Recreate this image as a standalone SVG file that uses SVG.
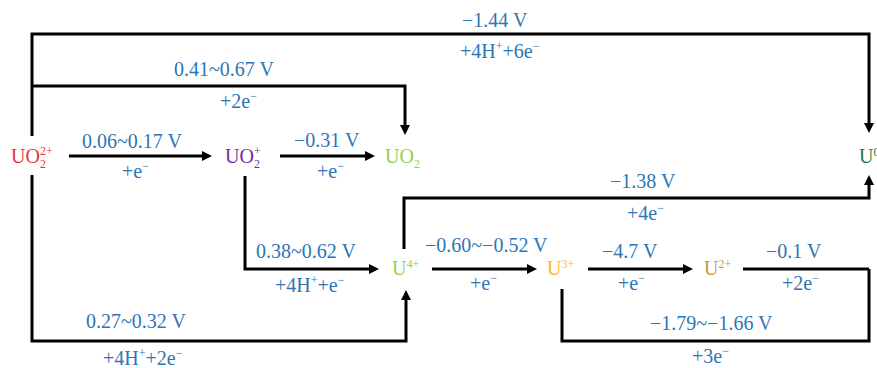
<svg xmlns="http://www.w3.org/2000/svg" width="877" height="368" viewBox="0 0 877 368">
<style>
.lbl{font-family:"Liberation Serif","Times New Roman",serif;font-size:20px;fill:#2e75b6}
.sp{font-size:12px}
.ion{font-family:"Liberation Serif","Times New Roman",serif;font-size:20px}
.ln{fill:none;stroke:#000;stroke-width:3;marker-end:url(#ah)}
.ln2{fill:none;stroke:#000;stroke-width:3}
</style>
<defs>
<marker id="ah" markerUnits="userSpaceOnUse" markerWidth="10" markerHeight="10" refX="0" refY="5" orient="auto" overflow="visible">
<path d="M0,0 L10,5 L0,10 z" fill="#000"/>
</marker>
</defs>
<rect width="877" height="368" fill="#fff"/>
<g id="connectors">
<path class="ln" d="M32,136 V34 H869 V123"/>
<path class="ln" d="M32,86 H405 V125"/>
<path class="ln" d="M69,156 H202"/>
<path class="ln" d="M280,156 H365"/>
<path class="ln" d="M32,175 V341 H406 V300"/>
<path class="ln" d="M245,176 V269 H369"/>
<path class="ln" d="M404,249 V198 H869 V185"/>
<path class="ln" d="M432,269 H527"/>
<path class="ln" d="M588,269 H683"/>
<path class="ln2" d="M743,269 H869"/>
<path class="ln2" d="M562,289 V341 H869 V269"/>
</g>
<g id="labels">
<text class="lbl" x="462" y="27">−1.44 V</text>
<text class="lbl" x="460" y="58">+4H<tspan class="sp" dy="-8">+</tspan><tspan dy="8">+6e</tspan><tspan class="sp" dy="-8">−</tspan></text>
<text class="lbl" x="174" y="76">0.41~0.67 V</text>
<text class="lbl" x="220" y="108">+2e<tspan class="sp" dy="-8">−</tspan></text>
<text class="lbl" x="82" y="148">0.06~0.17 V</text>
<text class="lbl" x="122" y="178">+e<tspan class="sp" dy="-8">−</tspan></text>
<text class="lbl" x="294" y="147">−0.31 V</text>
<text class="lbl" x="317" y="178">+e<tspan class="sp" dy="-8">−</tspan></text>
<text class="lbl" x="610" y="188">−1.38 V</text>
<text class="lbl" x="627" y="220">+4e<tspan class="sp" dy="-8">−</tspan></text>
<text class="lbl" x="256" y="258">0.38~0.62 V</text>
<text class="lbl" x="275" y="292">+4H<tspan class="sp" dy="-8">+</tspan><tspan dy="8">+e</tspan><tspan class="sp" dy="-8">−</tspan></text>
<text class="lbl" x="425" y="252">−0.60~−0.52 V</text>
<text class="lbl" x="470" y="290">+e<tspan class="sp" dy="-8">−</tspan></text>
<text class="lbl" x="602" y="258">−4.7 V</text>
<text class="lbl" x="618" y="290">+e<tspan class="sp" dy="-8">−</tspan></text>
<text class="lbl" x="766" y="258">−0.1 V</text>
<text class="lbl" x="782" y="290">+2e<tspan class="sp" dy="-8">−</tspan></text>
<text class="lbl" x="86" y="328">0.27~0.32 V</text>
<text class="lbl" x="103" y="365">+4H<tspan class="sp" dy="-8">+</tspan><tspan dy="8">+2e</tspan><tspan class="sp" dy="-8">−</tspan></text>
<text class="lbl" x="650" y="330">−1.79~−1.66 V</text>
<text class="lbl" x="692" y="363">+3e<tspan class="sp" dy="-8">−</tspan></text>
</g>
<g id="UO2_2plus">
<text class="ion" x="11" y="163" fill="#e8363d">UO<tspan class="sp" x="40" y="168">2</tspan><tspan class="sp" x="40" y="155">2+</tspan></text>
</g>
<g id="UO2_plus">
<text class="ion" x="225" y="163" fill="#7030a0">UO<tspan class="sp" x="254" y="168">2</tspan><tspan class="sp" x="254" y="155">+</tspan></text>
</g>
<g id="UO2">
<text class="ion" x="385" y="163" fill="#92d050">UO<tspan class="sp" x="414" y="168">2</tspan></text>
</g>
<g id="U4plus">
<text class="ion" x="392" y="275" fill="#92d050">U<tspan class="sp" y="268">4+</tspan></text>
</g>
<g id="U3plus">
<text class="ion" x="547" y="275" fill="#ffb52e">U<tspan class="sp" y="268">3+</tspan></text>
</g>
<g id="U2plus">
<text class="ion" x="704" y="275" fill="#c9983a">U<tspan class="sp" y="268">2+</tspan></text>
</g>
<g id="U0">
<text class="ion" x="859" y="163" fill="#1e7b45">U<tspan class="sp" y="156">0</tspan></text>
</g>
</svg>
